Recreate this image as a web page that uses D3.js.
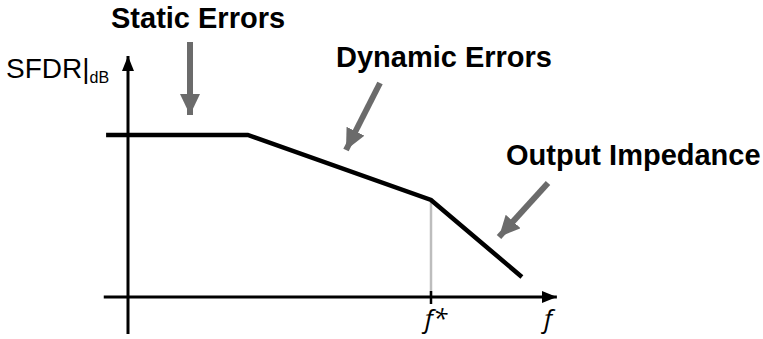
<!DOCTYPE html>
<html><head><meta charset="utf-8">
<script src="https://cdn.jsdelivr.net/npm/d3@7"></script>
<style>html,body{margin:0;padding:0;background:#fff;} svg{display:block;}</style>
</head><body><div id="chart"></div>
<script>
// Data (conceptual units: frequency, SFDR in dB)
const freq = [-0.47, 2.57, 6.5, 8.45];
const sfdr = [80, 80, 47.9, 9.9];
const fStar = 6.5;
const xAxisExtent = [-0.52, 9.2];
const yAxisExtent = [-18.3, 119];
const xLabels = ["f*", "f"];
const annotations = ["Static Errors", "Dynamic Errors", "Output Impedance"];

const W = 763, H = 339;
const svg = d3.select("#chart").append("svg").attr("width", W).attr("height", H);
const x = d3.scaleLinear().domain([0, 6.5]).range([128, 431]);
const y = d3.scaleLinear().domain([0, 80]).range([297, 135]);

const defs = svg.append("defs");
function marker(id, color, w, l) {
  defs.append("marker").attr("id", id).attr("viewBox", `0 0 ${l} ${w}`)
    .attr("refX", l).attr("refY", w/2).attr("markerWidth", l).attr("markerHeight", w)
    .attr("markerUnits", "userSpaceOnUse").attr("orient", "auto")
    .append("path").attr("d", `M0,0L${l},${w/2}L0,${w}Z`).attr("fill", color);
}
marker("axArrow", "#000", 12, 15);
marker("grArrow", "#6b6b6b", 20, 21);

// f* guide line
svg.append("line").attr("x1", x(fStar)).attr("x2", x(fStar))
  .attr("y1", y(sfdr[2])).attr("y2", y(0))
  .attr("stroke", "#bdbdbd").attr("stroke-width", 2.5);

// axes
svg.append("line").attr("x1", x(xAxisExtent[0])).attr("x2", x(xAxisExtent[1]))
  .attr("y1", y(0)).attr("y2", y(0)).attr("stroke", "#000").attr("stroke-width", 3)
  .attr("marker-end", "url(#axArrow)");
svg.append("line").attr("x1", x(0)).attr("x2", x(0))
  .attr("y1", y(yAxisExtent[0])).attr("y2", y(yAxisExtent[1])).attr("stroke", "#000").attr("stroke-width", 3)
  .attr("marker-end", "url(#axArrow)");
// tick at f*
svg.append("line").attr("x1", x(fStar)).attr("x2", x(fStar))
  .attr("y1", y(0) - 6).attr("y2", y(0) + 7).attr("stroke", "#000").attr("stroke-width", 2.5);

// main curve
const line = d3.line().x((d, i) => x(freq[i])).y((d, i) => y(sfdr[i]));
svg.append("path").datum(freq).attr("d", line).attr("fill", "none")
  .attr("stroke", "#000").attr("stroke-width", 4.5).attr("stroke-linejoin", "miter");

// axis labels
const lab = svg.append("text").attr("x", 6).attr("y", 78)
  .attr("font-family", "Liberation Sans, Arial, sans-serif").attr("font-size", 28).attr("fill", "#000");
lab.append("tspan").text("SFDR|");
lab.append("tspan").attr("font-size", 16).attr("dy", 5).text("dB");

svg.append("text").attr("x", x(fStar) + 5).attr("y", 328).attr("text-anchor", "middle")
  .attr("font-family", "Open Sans, Noto Sans, sans-serif").attr("font-style", "italic")
  .attr("font-size", 26).text(xLabels[0]);
svg.append("text").attr("x", 548).attr("y", 328).attr("text-anchor", "middle")
  .attr("font-family", "Open Sans, Noto Sans, sans-serif").attr("font-style", "italic")
  .attr("font-size", 26).text(xLabels[1]);

// annotations
const annPos = [[111, 28], [336, 67], [506, 165]];
annotations.forEach((t, i) => {
  svg.append("text").attr("x", annPos[i][0]).attr("y", annPos[i][1])
    .attr("font-family", "Liberation Sans, Arial, sans-serif").attr("font-weight", "bold")
    .attr("font-size", 29).attr("fill", "#000").text(t);
});
const arrows = [[190, 42, 190, 115], [380, 83, 346, 150], [548, 183, 499, 237]];
arrows.forEach(a => {
  svg.append("line").attr("x1", a[0]).attr("y1", a[1]).attr("x2", a[2]).attr("y2", a[3])
    .attr("stroke", "#6b6b6b").attr("stroke-width", 6).attr("marker-end", "url(#grArrow)");
});
</script></body></html>
